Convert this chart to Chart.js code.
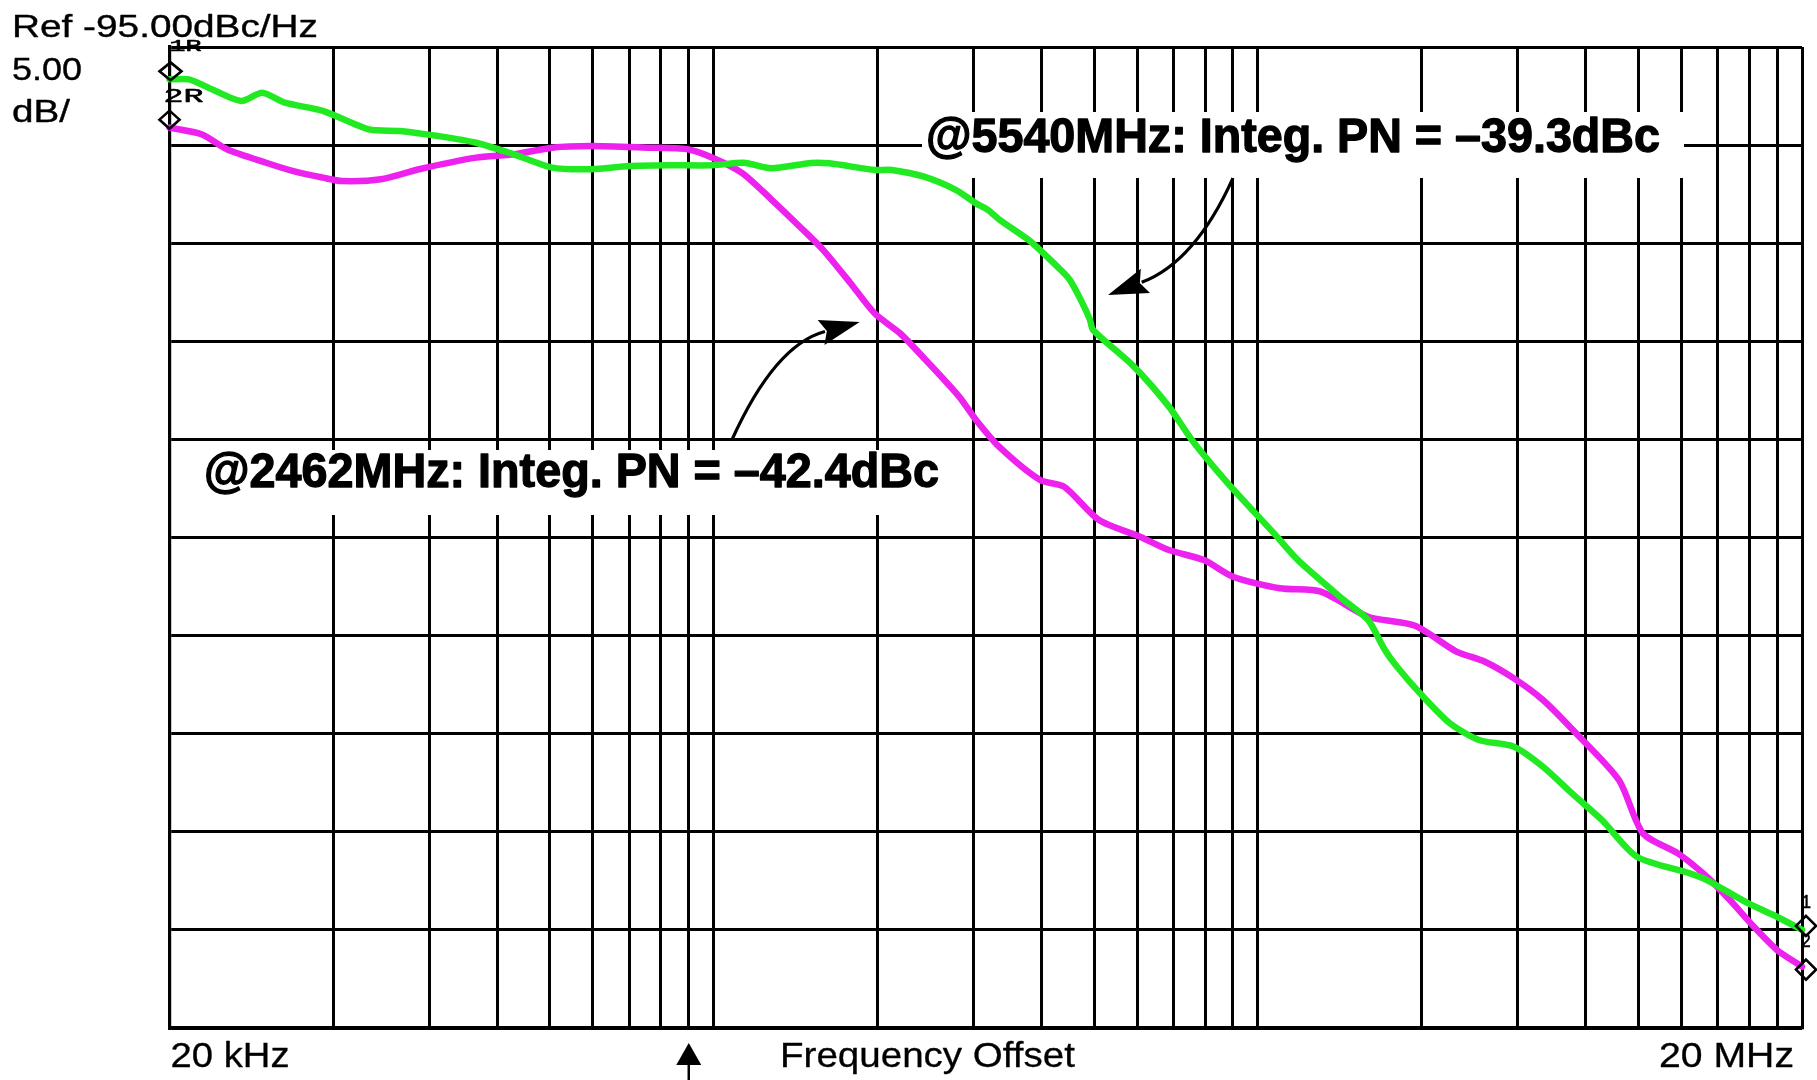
<!DOCTYPE html>
<html><head><meta charset="utf-8">
<script src="https://cdn.jsdelivr.net/npm/chart.js@4.4.1/dist/chart.umd.min.js"></script>
<style>html,body{margin:0;padding:0;background:#fff;overflow:hidden}#wrap{width:1817px;height:1080px;position:relative}</style>
</head><body><div id="wrap"><canvas id="c" width="1817" height="1080"></canvas></div>
<script>
// ---- data (frequency offset in kHz, phase noise in dBc/Hz)
const freq5540kHz = [20, 21.7, 24.3, 27.1, 29.6, 32.6, 38.3, 46.5, 53, 62.3, 73.2, 85.9, 101, 119, 140, 165, 199, 227, 255, 302, 326, 396, 425, 487, 558, 607, 638, 672, 759, 796, 881, 903, 946, 983, 996, 1184, 1373, 1513, 1762, 2142, 2370, 2878, 3188, 3424, 3604, 3972, 4508, 5098, 5910, 6684, 7556, 8578, 9948, 12446, 13374, 15910, 17988, 20000];
const pn5540 = [-96.65, -96.65, -97.24, -97.75, -97.33, -97.84, -98.26, -99.2, -99.28, -99.54, -99.88, -100.47, -101.15, -101.23, -101.07, -101.03, -101.03, -100.9, -101.18, -100.91, -100.93, -101.27, -101.27, -101.61, -102.29, -102.97, -103.3, -103.82, -104.84, -105.35, -106.53, -106.88, -107.9, -108.9, -109.42, -111.29, -113.33, -115.03, -117.24, -119.79, -121.15, -123.19, -124.2, -125.73, -126.59, -127.94, -129.47, -130.32, -130.66, -131.68, -133.04, -134.4, -136.27, -137.12, -137.46, -138.64, -139.33, -140.0];
const freq2462kHz = [20, 22.9, 25.5, 30.1, 34.2, 38.3, 41.5, 48.9, 57.5, 73.2, 85.9, 101, 119, 151, 179, 200, 226, 256, 288, 318, 356, 396, 440, 497, 565, 607, 669, 796, 881, 1021, 1215, 1373, 1592, 1800, 2196, 2612, 3188, 3890, 4624, 5228, 5910, 6684, 7586, 9216, 10202, 11828, 13374, 14740, 16316, 17988, 20000];
const pn2462 = [-99.11, -99.45, -100.21, -100.9, -101.37, -101.66, -101.83, -101.74, -101.23, -100.64, -100.47, -100.13, -100.05, -100.13, -100.21, -100.67, -101.44, -102.8, -104.16, -105.35, -107.0, -108.6, -109.59, -111.12, -112.82, -114.01, -115.37, -117.07, -117.41, -119.11, -119.96, -120.64, -121.15, -122.0, -122.59, -122.76, -124.04, -124.5, -125.8, -126.33, -127.18, -128.28, -129.81, -132.36, -135.08, -136.1, -137.29, -138.48, -139.84, -141.02, -141.87];

// ---- axis definition
const decadeStartsKHz = [20, 200, 2000];
const gridMultipliers = [1, 2, 3, 4, 5, 6, 7, 8, 9, 10];
const refLevel = -95;      // dBc/Hz at top
const dbPerDiv = 5;
const numDivs = 10;
const xLabelLeft = '20 kHz';
const xLabelRight = '20 MHz';
const xTitle = 'Frequency Offset';
const refText = 'Ref -95.00dBc/Hz';
const scaleText1 = '5.00';
const scaleText2 = 'dB/';
const note5540 = '@5540MHz: Integ. PN = \u201339.3dBc';
const note2462 = '@2462MHz: Integ. PN = \u201342.4dBc';
const markerFreqKHz = 180;

// annotation arrows in data coordinates (kHz, dB): start, control, tip
const arrow5540 = [[1800, -101.68], [1534, -105.96], [1061, -107.64]];
const arrow2462 = [[216, -115.03], [259, -110.19], [371, -109.02]];

const gridFreqs = [];
decadeStartsKHz.forEach(d => gridMultipliers.forEach(m => {
  const v = d * m * 1000;
  if (!gridFreqs.includes(v)) gridFreqs.push(v);
}));

const SANS = '"Liberation Sans", Arial, Helvetica, sans-serif';
const MONO = '"Liberation Mono", "Courier New", monospace';

function fitText(ctx, str, x, baseline, capH, width, weight, family, strokeW) {
  const size = capH / 0.72;
  ctx.save();
  ctx.font = `${weight} ${size}px ${family || SANS}`;
  ctx.textBaseline = 'alphabetic';
  ctx.textAlign = 'left';
  const w = ctx.measureText(str).width;
  ctx.translate(x, baseline);
  ctx.scale(width / w, 1);
  ctx.fillStyle = '#000';
  ctx.fillText(str, 0, 0);
  if (strokeW) {
    ctx.strokeStyle = '#000';
    ctx.lineWidth = strokeW;
    ctx.lineJoin = 'round';
    ctx.strokeText(str, 0, 0);
  }
  ctx.restore();
}

function drawArrow(ctx, p0, c, p2, headLen, headHalf, lw) {
  const dx = p2.x - c.x, dy = p2.y - c.y;
  const L = Math.hypot(dx, dy);
  const ux = dx / L, uy = dy / L;
  const bx = p2.x - ux * headLen, by = p2.y - uy * headLen;
  ctx.save();
  ctx.strokeStyle = '#000';
  ctx.fillStyle = '#000';
  ctx.lineWidth = lw;
  ctx.beginPath();
  ctx.moveTo(p0.x, p0.y);
  ctx.quadraticCurveTo(c.x, c.y, bx + ux * 4, by + uy * 4);
  ctx.stroke();
  ctx.beginPath();
  ctx.moveTo(p2.x, p2.y);
  ctx.lineTo(bx - uy * headHalf, by + ux * headHalf);
  ctx.lineTo(bx + ux * 6, by + uy * 6);
  ctx.lineTo(bx + uy * headHalf, by - ux * headHalf);
  ctx.closePath();
  ctx.fill();
  ctx.restore();
}

function diamond(ctx, x, y, hw, hh) {
  ctx.save();
  ctx.strokeStyle = '#000';
  ctx.lineWidth = 2.6;
  ctx.beginPath();
  ctx.moveTo(x, y - hh); ctx.lineTo(x + hw, y); ctx.lineTo(x, y + hh); ctx.lineTo(x - hw, y);
  ctx.closePath();
  ctx.stroke();
  ctx.restore();
}

const boxesPlugin = {
  id: 'boxes',
  beforeDatasetsDraw(chart) {
    const ctx = chart.ctx;
    ctx.save();
    ctx.fillStyle = '#fff';
    ctx.fillRect(922, 112, 762, 66);
    ctx.fillRect(200, 450, 762, 65);
    ctx.restore();
  }
};

const decorPlugin = {
  id: 'decor',
  afterDatasetsDraw(chart) {
    const ctx = chart.ctx;
    const xs = chart.scales.x, ys = chart.scales.y, a = chart.chartArea;
    const P = (p) => ({ x: xs.getPixelForValue(p[0] * 1000), y: ys.getPixelForValue(p[1]) });

    // header texts
    fitText(ctx, refText, 12, 37, 23, 306, 'normal', SANS, 0.4);
    fitText(ctx, scaleText1, 12, 80, 22.5, 70, 'normal', SANS, 0.4);
    fitText(ctx, scaleText2, 12, 122, 22.5, 58, 'normal', SANS, 0.4);

    // bottom texts
    fitText(ctx, xLabelLeft, a.left + 1, a.bottom + 39, 25, 119, 'normal', SANS, 0.3);
    fitText(ctx, xTitle, 780, a.bottom + 39, 25, 295, 'normal', SANS, 0.3);
    fitText(ctx, xLabelRight, 1659, a.bottom + 39, 25, 135, 'normal', SANS, 0.3);

    // annotations
    fitText(ctx, note5540, 926, 152, 35, 734, 'bold', SANS, 1.3);
    fitText(ctx, note2462, 204, 487, 34.5, 735, 'bold', SANS, 1.3);
    drawArrow(ctx, P(arrow5540[0]), P(arrow5540[1]), P(arrow5540[2]), 40, 13, 3.2);
    drawArrow(ctx, P(arrow2462[0]), P(arrow2462[1]), P(arrow2462[2]), 40, 13, 3.2);

    // marker arrow below the axis
    const mx = xs.getPixelForValue(markerFreqKHz * 1000);
    ctx.save();
    ctx.fillStyle = '#000'; ctx.strokeStyle = '#000'; ctx.lineWidth = 2.5;
    ctx.beginPath();
    ctx.moveTo(mx, a.bottom + 15);
    ctx.lineTo(mx + 12.5, a.bottom + 37);
    ctx.lineTo(mx - 12.5, a.bottom + 37);
    ctx.closePath(); ctx.fill();
    ctx.beginPath(); ctx.moveTo(mx, a.bottom + 36); ctx.lineTo(mx, 1080); ctx.stroke();
    ctx.restore();

    // trace reference markers
    const g0 = ys.getPixelForValue(pn5540[0]);
    const m0 = ys.getPixelForValue(pn2462[0]);
    const gN = ys.getPixelForValue(pn5540[pn5540.length - 1]);
    const mN = ys.getPixelForValue(pn2462[pn2462.length - 1]);
    diamond(ctx, a.left + 1, g0 - 8, 11, 9);
    diamond(ctx, a.left, m0 - 8, 10, 9);
    diamond(ctx, a.right + 4, gN - 4, 10, 10);
    diamond(ctx, a.right + 4, mN + 3, 10, 10);
    fitText(ctx, '1R', a.left, 51, 12, 32, 'normal', MONO, 0.6);
    fitText(ctx, '2R', a.left - 6, 102, 14, 40, 'normal', MONO, 0.6);
    fitText(ctx, '1', a.right - 1, gN - 22, 14, 10, 'normal', MONO, 0.6);
    fitText(ctx, '2', a.right - 1, mN - 20, 14, 10, 'normal', MONO, 0.6);
  }
};

const gridStyle = { color: '#000', lineWidth: 3, drawTicks: false };
const borderStyle = { display: true, color: '#000', width: 3.2 };

new Chart(document.getElementById('c'), {
  type: 'line',
  data: {
    datasets: [
      {
        label: '5540 MHz',
        data: freq5540kHz.map((f, i) => ({ x: f * 1000, y: pn5540[i] })),
        borderColor: '#22ea22',
        borderWidth: 6.5,
        pointRadius: 0,
        tension: 0.25,
        borderJoinStyle: 'round',
        borderCapStyle: 'round',
        clip: 6
      },
      {
        label: '2462 MHz',
        data: freq2462kHz.map((f, i) => ({ x: f * 1000, y: pn2462[i] })),
        borderColor: '#ee22ee',
        borderWidth: 6.5,
        pointRadius: 0,
        tension: 0.25,
        borderJoinStyle: 'round',
        borderCapStyle: 'round',
        clip: 6
      }
    ]
  },
  options: {
    responsive: false,
    animation: false,
    devicePixelRatio: 1,
    layout: { padding: { left: 169.5, top: 47, right: 15, bottom: 52 } },
    plugins: { legend: { display: false }, tooltip: { enabled: false } },
    scales: {
      x: {
        type: 'logarithmic',
        min: decadeStartsKHz[0] * 1000,
        max: decadeStartsKHz[0] * 1000 * 1000,
        afterBuildTicks: (axis) => { axis.ticks = gridFreqs.map(v => ({ value: v })); },
        ticks: { display: false },
        grid: gridStyle,
        border: borderStyle
      },
      y: {
        type: 'linear',
        min: refLevel - dbPerDiv * numDivs,
        max: refLevel,
        ticks: { display: false, stepSize: dbPerDiv },
        grid: gridStyle,
        border: borderStyle
      }
    }
  },
  plugins: [boxesPlugin, decorPlugin]
});
</script>
</body></html>
